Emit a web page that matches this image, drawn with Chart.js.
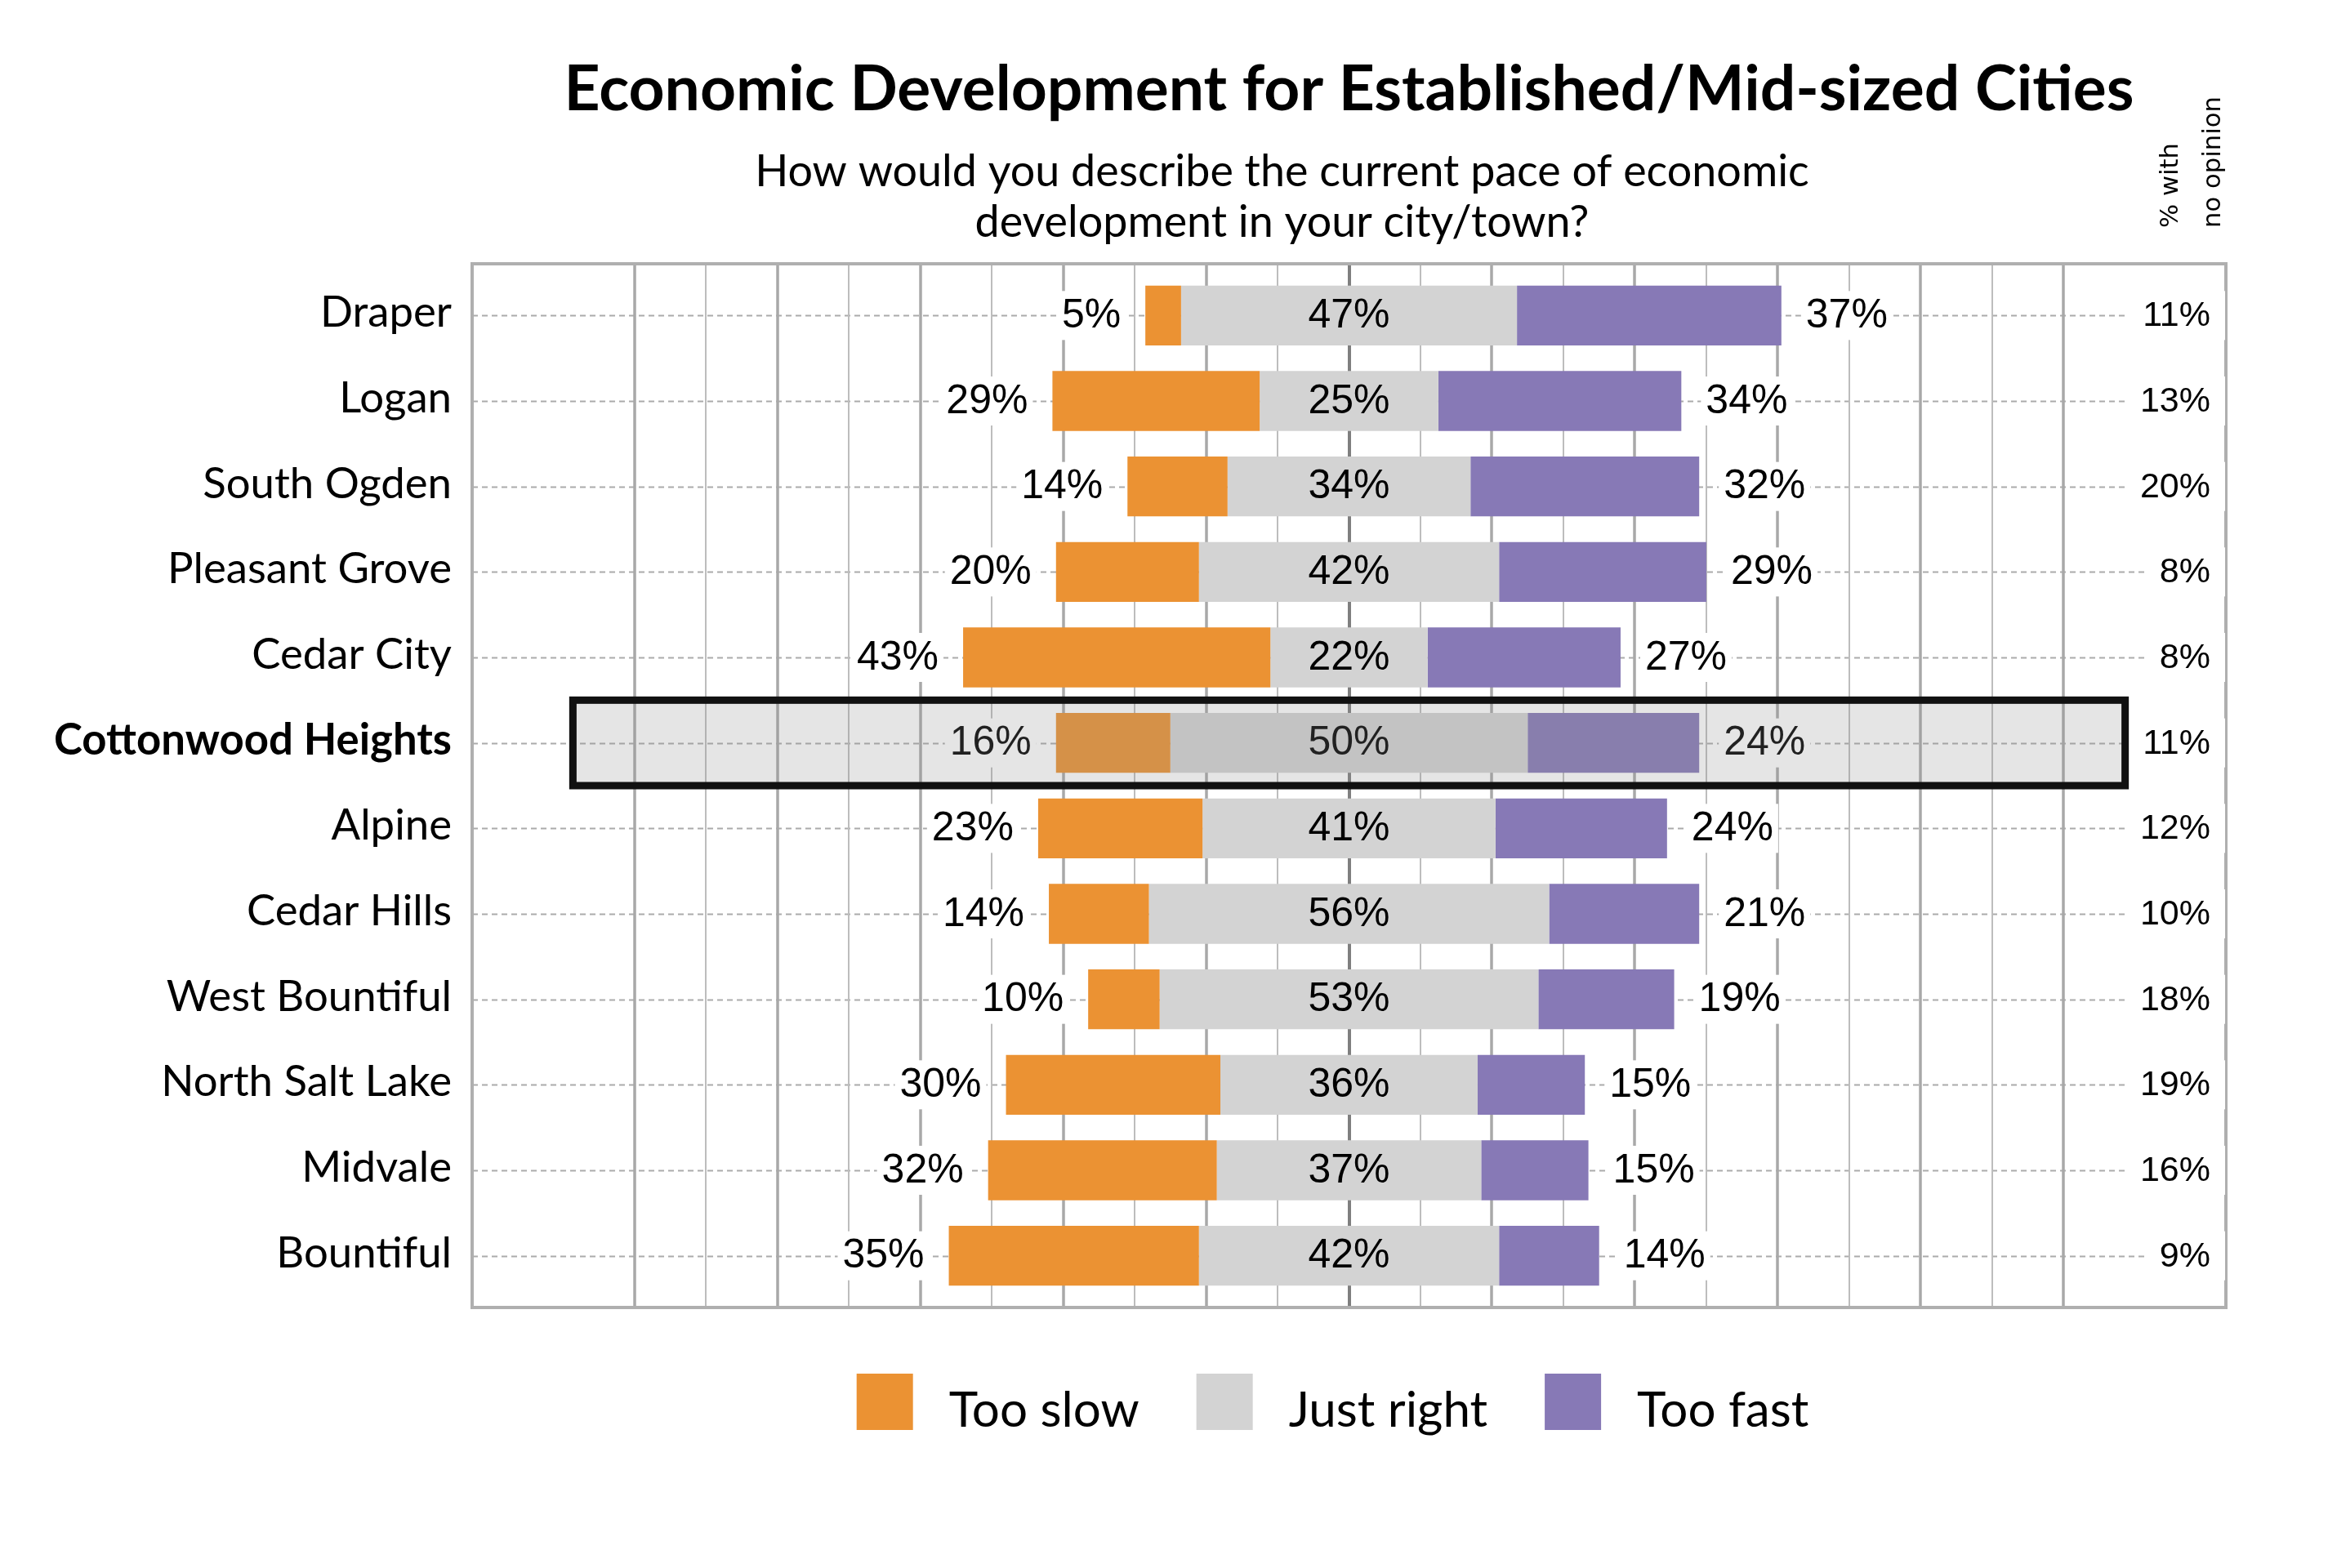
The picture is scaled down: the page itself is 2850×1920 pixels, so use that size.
<!DOCTYPE html>
<html lang="en">
<head>
<meta charset="utf-8">
<title>Economic Development for Established/Mid-sized Cities</title>
<script src="https://cdn.jsdelivr.net/npm/chart.js@4.4.1/dist/chart.umd.min.js"></script>
<style>
    html, body { margin: 0; padding: 0; background: #ffffff; }
    #graficoCidades { display: block; }
</style>
</head>
<body>
<canvas id="graficoCidades" width="2850" height="1920"></canvas>
<script>
// ==========================================
// DATA
// ==========================================
const cities = [
    "Draper", "Logan", "South Ogden", "Pleasant Grove", "Cedar City",
    "Cottonwood Heights", "Alpine", "Cedar Hills", "West Bountiful",
    "North Salt Lake", "Midvale", "Bountiful"
];
const tooSlow   = [5, 29, 14, 20, 43, 16, 23, 14, 10, 30, 32, 35];
const justRight = [47, 25, 34, 42, 22, 50, 41, 56, 53, 36, 37, 42];
const tooFast   = [37, 34, 32, 29, 27, 24, 24, 21, 19, 15, 15, 14];
const noOpinion = [11, 13, 20, 8, 8, 11, 12, 10, 18, 19, 16, 9];
const seriesNames = ["Too slow", "Just right", "Too fast"];
const highlightCity = "Cottonwood Heights";

const titleText = "Economic Development for Established/Mid-sized Cities";
const subtitleLines = [
    "How would you describe the current pace of economic",
    "development in your city/town?"
];
const sideHeader = ["% with", "no opinion"];

// ==========================================
// STYLE
// ==========================================
const COLORS = ["#EB9233", "#D3D3D3", "#8779B6"];
const SANS_CAL = "Lato, 'Open Sans', sans-serif";
const SANS_ARIAL = "'Liberation Sans', Arial, sans-serif";
const SANS_TAHOMA = "'DejaVu Sans', Verdana, sans-serif";
const FRAME_EXTRA = 11;      // frame sits a bit outside the row bands
const HIGHLIGHT_SPAN = 108.6; // half width of the highlight box, in %

function fitFont(text, weight, family, targetWidth) {
    const c = document.createElement("canvas").getContext("2d");
    c.font = weight + " 100px " + family;
    return 100 * targetWidth / c.measureText(text).width;
}

// ==========================================
// GRID + FRAME (under the bars)
// ==========================================
const gridPlugin = {
    id: "gridFrame",
    beforeDatasetsDraw(chart) {
        const { ctx, chartArea: a } = chart;
        const x = chart.scales.x, y = chart.scales.y;
        const top = a.top - FRAME_EXTRA, bottom = a.bottom + FRAME_EXTRA;
        ctx.save();

        // dashed row lines
        ctx.strokeStyle = "#ababab";
        ctx.lineWidth = 2;
        ctx.setLineDash([7, 5]);
        cities.forEach(function (c, i) {
            const py = Math.round(y.getPixelForValue(i)) + 0.5;
            ctx.beginPath();
            ctx.moveTo(a.left, py);
            ctx.lineTo(a.right, py);
            ctx.stroke();
        });
        ctx.setLineDash([]);

        // vertical lines every 10%
        for (let v = -100; v <= 100; v += 10) {
            const px = Math.round(x.getPixelForValue(v));
            if (v === 0) { ctx.strokeStyle = "#7f7f7f"; ctx.lineWidth = 4; }
            else if (v % 20 === 0) { ctx.strokeStyle = "#a8a8a8"; ctx.lineWidth = 3.5; }
            else { ctx.strokeStyle = "#bdbdbd"; ctx.lineWidth = 2; }
            ctx.beginPath();
            ctx.moveTo(px, top);
            ctx.lineTo(px, bottom);
            ctx.stroke();
        }

        // frame
        ctx.strokeStyle = "#afafaf";
        ctx.lineWidth = 4;
        ctx.strokeRect(a.left, top, a.right - a.left, bottom - top);
        ctx.restore();
    }
};

// ==========================================
// VALUE LABELS + HIGHLIGHT BOX (over the bars)
// ==========================================
function labelWithBackground(ctx, text, px, py, align, padX) {
    const w = ctx.measureText(text).width;
    const left = align === "right" ? px - w : (align === "center" ? px - w / 2 : px);
    ctx.fillStyle = "#ffffff";
    ctx.fillRect(left - padX, py - 30, w + 2 * padX, 60);
    ctx.fillStyle = "#000000";
    ctx.textAlign = align;
    ctx.fillText(text, px, py + 1);
}

const labelPlugin = {
    id: "valueLabels",
    afterDatasetsDraw(chart) {
        const { ctx, chartArea: a } = chart;
        const x = chart.scales.x, y = chart.scales.y;
        const ds = chart.data.datasets;
        ctx.save();
        ctx.textBaseline = "middle";

        cities.forEach(function (c, i) {
            const py = y.getPixelForValue(i);
            ctx.font = "50px " + SANS_ARIAL;

            labelWithBackground(ctx, tooSlow[i] + "%", x.getPixelForValue(ds[0].data[i][0]) - 30, py, "right", 6);

            ctx.fillStyle = "#000000";
            ctx.textAlign = "center";
            ctx.fillText(justRight[i] + "%", x.getPixelForValue(0), py + 1);

            labelWithBackground(ctx, tooFast[i] + "%", x.getPixelForValue(ds[2].data[i][1]) + 30, py, "left", 6);

            ctx.font = "43px " + SANS_ARIAL;
            labelWithBackground(ctx, noOpinion[i] + "%", a.right - 19, py, "right", 18);
        });

        // highlight box
        const hi = cities.indexOf(highlightCity);
        if (hi >= 0) {
            const band = (a.bottom - a.top) / cities.length;
            const cy = y.getPixelForValue(hi);
            const x0 = x.getPixelForValue(-HIGHLIGHT_SPAN), x1 = x.getPixelForValue(HIGHLIGHT_SPAN);
            ctx.fillStyle = "rgba(141,141,141,0.23)";
            ctx.fillRect(x0, cy - band / 2, x1 - x0, band);
            ctx.strokeStyle = "#111111";
            ctx.lineWidth = 9;
            ctx.strokeRect(x0, cy - band / 2, x1 - x0, band);
        }
        ctx.restore();
    }
};

// ==========================================
// TITLES, SIDE HEADER, LEGEND
// ==========================================
function textPlugin(sizes) {
    return {
        id: "texts",
        afterDraw(chart) {
            const { ctx, chartArea: a } = chart;
            const mid = (a.left + a.right) / 2;
            ctx.save();
            ctx.fillStyle = "#000000";
            ctx.textBaseline = "alphabetic";

            // title
            ctx.textAlign = "center";
            ctx.font = "bold " + sizes.title + "px " + SANS_CAL;
            ctx.fillText(titleText, mid, 135);

            // subtitle
            ctx.font = sizes.subtitle + "px " + SANS_CAL;
            subtitleLines.forEach(function (line, k) {
                ctx.fillText(line, mid - 82, 228 + k * 62);
            });

            // rotated header above the no opinion column
            ctx.font = sizes.header + "px " + SANS_TAHOMA;
            ctx.textAlign = "left";
            sideHeader.forEach(function (line, k) {
                ctx.save();
                ctx.translate(2666 + k * 52, 279);
                ctx.rotate(-Math.PI / 2);
                ctx.fillText(line, 0, 0);
                ctx.restore();
            });

            // legend
            ctx.font = sizes.legend + "px " + SANS_CAL;
            const box = 69, gapText = 44, gapItem = 70;
            const widths = chart.data.datasets.map(d => ctx.measureText(d.label).width);
            let total = gapItem * (widths.length - 1);
            widths.forEach(w => { total += box + gapText + w; });
            let lx = mid - 20 - total / 2;
            chart.data.datasets.forEach(function (d, k) {
                ctx.fillStyle = d.backgroundColor;
                ctx.fillRect(lx, 1682, box, box);
                ctx.fillStyle = "#000000";
                ctx.fillText(d.label, lx + box + gapText, 1747);
                lx += box + gapText + widths[k] + gapItem;
            });
            ctx.restore();
        }
    };
}

// ==========================================
// CHART
// ==========================================
function criarGrafico() {
    const sizes = {
        title: fitFont(titleText, "bold", SANS_CAL, 1922),
        subtitle: fitFont(subtitleLines[0], "normal", SANS_CAL, 1291),
        category: fitFont("Pleasant Grove", "normal", SANS_CAL, 348),
        legend: fitFont("Too slow", "normal", SANS_CAL, 233),
        header: fitFont(sideHeader[1], "normal", SANS_TAHOMA, 161)
    };

    const slowBars = cities.map((c, i) => [-justRight[i] / 2 - tooSlow[i], -justRight[i] / 2]);
    const rightBars = cities.map((c, i) => [-justRight[i] / 2, justRight[i] / 2]);
    const fastBars = cities.map((c, i) => [justRight[i] / 2, justRight[i] / 2 + tooFast[i]]);

    new Chart(document.getElementById("graficoCidades"), {
        type: "bar",
        data: {
            labels: cities,
            datasets: [
                { label: seriesNames[0], data: slowBars, backgroundColor: COLORS[0] },
                { label: seriesNames[1], data: rightBars, backgroundColor: COLORS[1] },
                { label: seriesNames[2], data: fastBars, backgroundColor: COLORS[2] }
            ]
        },
        options: {
            indexAxis: "y",
            responsive: false,
            devicePixelRatio: 1,
            animation: false,
            layout: { padding: { top: 334, bottom: 330, left: 0, right: 125 } },
            datasets: {
                bar: { grouped: false, barPercentage: 0.70, categoryPercentage: 1.0, borderWidth: 0 }
            },
            plugins: {
                legend: { display: false },
                title: { display: false },
                tooltip: { enabled: false }
            },
            scales: {
                x: { type: "linear", display: false, min: -122.7, max: 122.7 },
                y: {
                    type: "category",
                    offset: true,
                    grid: { display: false, drawTicks: false },
                    border: { display: false },
                    ticks: {
                        color: "#000000",
                        padding: 25,
                        labelOffset: -3,
                        font: function (ctx) {
                            return {
                                family: SANS_CAL,
                                size: sizes.category,
                                weight: cities[ctx.index] === highlightCity ? "bold" : "normal"
                            };
                        }
                    },
                    afterFit: function (scale) { scale.width = 578; }
                }
            }
        },
        plugins: [gridPlugin, labelPlugin, textPlugin(sizes)]
    });
}

document.addEventListener("DOMContentLoaded", function () {
    const loads = [
        "100px Lato", "bold 100px Lato", "50px 'Liberation Sans'", "35px 'DejaVu Sans'"
    ].map(f => document.fonts.load(f));
    Promise.all(loads).then(criarGrafico, criarGrafico);
});
</script>
</body>
</html>
